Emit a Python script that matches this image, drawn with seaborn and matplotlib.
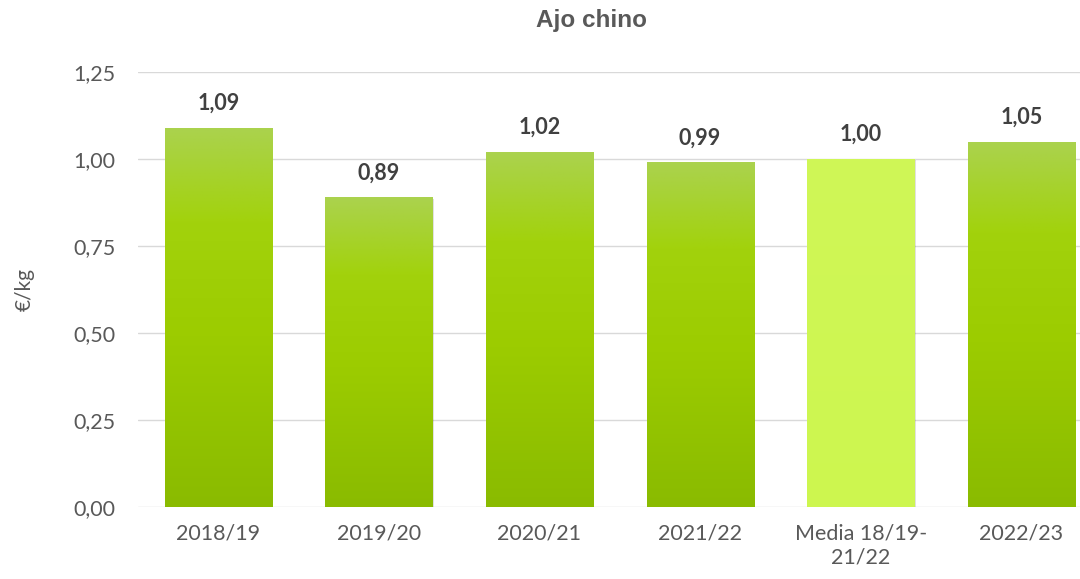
import numpy as np
import pandas as pd
import matplotlib
matplotlib.use("Agg")
import matplotlib.pyplot as plt
import seaborn as sns
from matplotlib.colors import LinearSegmentedColormap

categories = ["2018/19", "2019/20", "2020/21", "2021/22", "Media 18/19-\n21/22", "2022/23"]
values = [1.09, 0.89, 1.02, 0.99, 1.00, 1.05]
labels = ["1,09", "0,89", "1,02", "0,99", "1,00", "1,05"]
yticks = [0.0, 0.25, 0.5, 0.75, 1.0, 1.25]
ytick_labels = ["0,00", "0,25", "0,50", "0,75", "1,00", "1,25"]

sns.set_theme(style="white")
plt.rcParams['font.family'] = ['Lato', 'DejaVu Sans']

fig = plt.figure(figsize=(10.8, 5.79), dpi=100)
ax = fig.add_axes([138/1080, 1 - 507/579, 963.6/1080, 435/579])

df = pd.DataFrame({"cat": categories, "val": values})
sns.barplot(data=df, x="cat", y="val", ax=ax, color="#9ccc00", width=0.667,
            saturation=1, edgecolor="none", zorder=2)

ax.set_ylim(0, 1.25)
ax.set_xlim(-0.5, 5.5)
ax.set_yticks(yticks)
ax.set_yticklabels(ytick_labels)
ax.yaxis.grid(True, color="#d9d9d9", linewidth=1.0, zorder=0)
ax.set_axisbelow(True)
for s in ax.spines.values():
    s.set_visible(False)
ax.tick_params(axis="both", length=0, colors="#595959", labelsize=15.5)
ax.tick_params(axis="y", pad=16)
ax.tick_params(axis="x", pad=12)
for t in ax.get_xticklabels():
    t.set_linespacing(1.25)
ax.set_xlabel("")
ax.set_ylabel("€/kg", color="#595959", fontsize=15)
ax.yaxis.set_label_coords(-(138 - 35) / 963.6, 0.5)

grad = LinearSegmentedColormap.from_list(
    "g", [(0.0, "#8abb00"), (0.45, "#9ccc00"), (0.75, "#a2d20c"), (1.0, "#abd24e")])
media = LinearSegmentedColormap.from_list("m", ["#cdf64f", "#d0f757"])
for i, p in enumerate(ax.patches):
    x0, w, h = p.get_x(), p.get_width(), p.get_height()
    cmap = media if i == 4 else grad
    ax.add_patch(plt.Rectangle((x0 + 0.008, 0), w, h - 0.004, color="#000000",
                               alpha=0.12, zorder=1.5, lw=0))
    im = ax.imshow(np.linspace(0, 1, 256).reshape(-1, 1), cmap=cmap, origin="lower",
                   extent=[x0, x0 + w, 0, h], aspect="auto", zorder=2.5)
    im.set_clip_path(p)
    ax.text(p.get_x() + w / 2, h + 0.04, labels[i], ha="center", va="bottom",
            fontsize=15.5, fontweight="bold", color="#404040")

ax.set_xlim(-0.5, 5.5)
ax.set_ylim(0, 1.25)
ax.grid(False, axis="x")

fig.text(592 / 1080, 1 - 20 / 579, "Ajo chino", ha="center", va="center",
         fontsize=17.5, fontweight="bold", color="#595959",
         family=["Liberation Sans", "DejaVu Sans"])

fig.savefig("out.png", dpi=100)
